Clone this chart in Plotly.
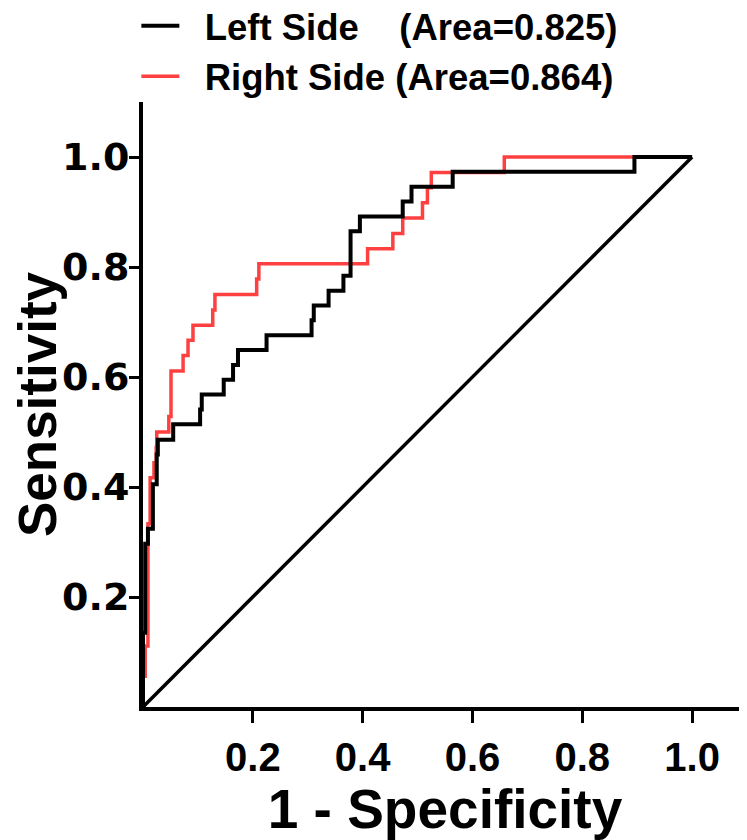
import plotly.graph_objects as go

# ROC data (1 - specificity, sensitivity), step corners
fpr_left = [0, 0, 0.004, 0.009, 0.018, 0.025, 0.027, 0.055, 0.104, 0.107, 0.147, 0.164,
            0.173, 0.225, 0.307, 0.311, 0.338, 0.365, 0.378, 0.395, 0.473, 0.489, 0.564,
            0.895, 1.0]
tpr_left = [0, 0.135, 0.297, 0.324, 0.405, 0.459, 0.486, 0.514, 0.541, 0.568, 0.595, 0.622,
            0.649, 0.676, 0.703, 0.730, 0.757, 0.784, 0.865, 0.892, 0.919, 0.946, 0.973,
            1.0, 1.0]

fpr_right = [0, 0, 0.004, 0.009, 0.013, 0.020, 0.024, 0.025, 0.047, 0.051, 0.073, 0.082,
             0.091, 0.127, 0.131, 0.207, 0.211, 0.409, 0.455, 0.473, 0.509, 0.518, 0.525,
             0.658, 1.0]
tpr_right = [0, 0.056, 0.111, 0.333, 0.417, 0.444, 0.472, 0.5, 0.528, 0.611, 0.639, 0.667,
             0.694, 0.722, 0.75, 0.778, 0.806, 0.833, 0.861, 0.889, 0.917, 0.944, 0.972,
             1.0, 1.0]

ref_x = [0, 1]
ref_y = [0, 1]

tick_vals = [0.2, 0.4, 0.6, 0.8, 1.0]
tick_text = ["0.2", "0.4", "0.6", "0.8", "1.0"]

name_left = "\u00a0\u00a0Left Side\u00a0\u00a0\u00a0 (Area=0.825)"
name_right = "\u00a0\u00a0Right Side (Area=0.864)"

RED = "#ff4040"

fig = go.Figure()
fig.add_trace(go.Scatter(x=fpr_right, y=tpr_right, mode="lines", line_shape="hv",
                         line=dict(color=RED, width=3.5), name=name_right, legendrank=2))
fig.add_trace(go.Scatter(x=fpr_left, y=tpr_left, mode="lines", line_shape="hv",
                         line=dict(color="black", width=4), name=name_left, legendrank=1))
fig.add_trace(go.Scatter(x=ref_x, y=ref_y, mode="lines",
                         line=dict(color="black", width=3.5), showlegend=False))

# the page body adds an 8px offset; the figure is sized to fill the rest of the window
fig.update_layout(
    width=739, height=832,
    margin=dict(l=135, r=0, t=94, b=133, autoexpand=False),
    plot_bgcolor="white", paper_bgcolor="white",
    legend=dict(x=-0.011, y=1.176, xanchor="left", yanchor="top",
                font=dict(family="Liberation Sans", size=36.5, color="black", weight="bold"),
                bgcolor="rgba(0,0,0,0)", itemwidth=38),
)
fig.update_xaxes(range=[0, 1.1], tickvals=tick_vals, ticktext=tick_text, automargin=False,
                 ticks="outside", ticklen=12, tickwidth=3, tickcolor="black",
                 showline=True, linewidth=4, linecolor="black",
                 showgrid=False, zeroline=False,
                 tickfont=dict(family="Liberation Sans", size=40, color="black", weight="bold"),
                 title=dict(text="1 - Specificity", standoff=14,
                            font=dict(family="Liberation Sans", size=55, color="black", weight="bold")))
fig.update_yaxes(range=[0, 1.1], tickvals=tick_vals, ticktext=tick_text, automargin=True,
                 ticks="outside", ticklen=10, tickwidth=3, tickcolor="black",
                 showline=True, linewidth=4, linecolor="black",
                 showgrid=False, zeroline=False, ticklabelstandoff=-8,
                 tickfont=dict(family="DejaVu Sans", size=38, color="black", weight="bold"),
                 title=dict(text="Sensitivity", standoff=16,
                            font=dict(family="Liberation Sans", size=53, color="black", weight="bold")))

fig.write_html("out.html")
